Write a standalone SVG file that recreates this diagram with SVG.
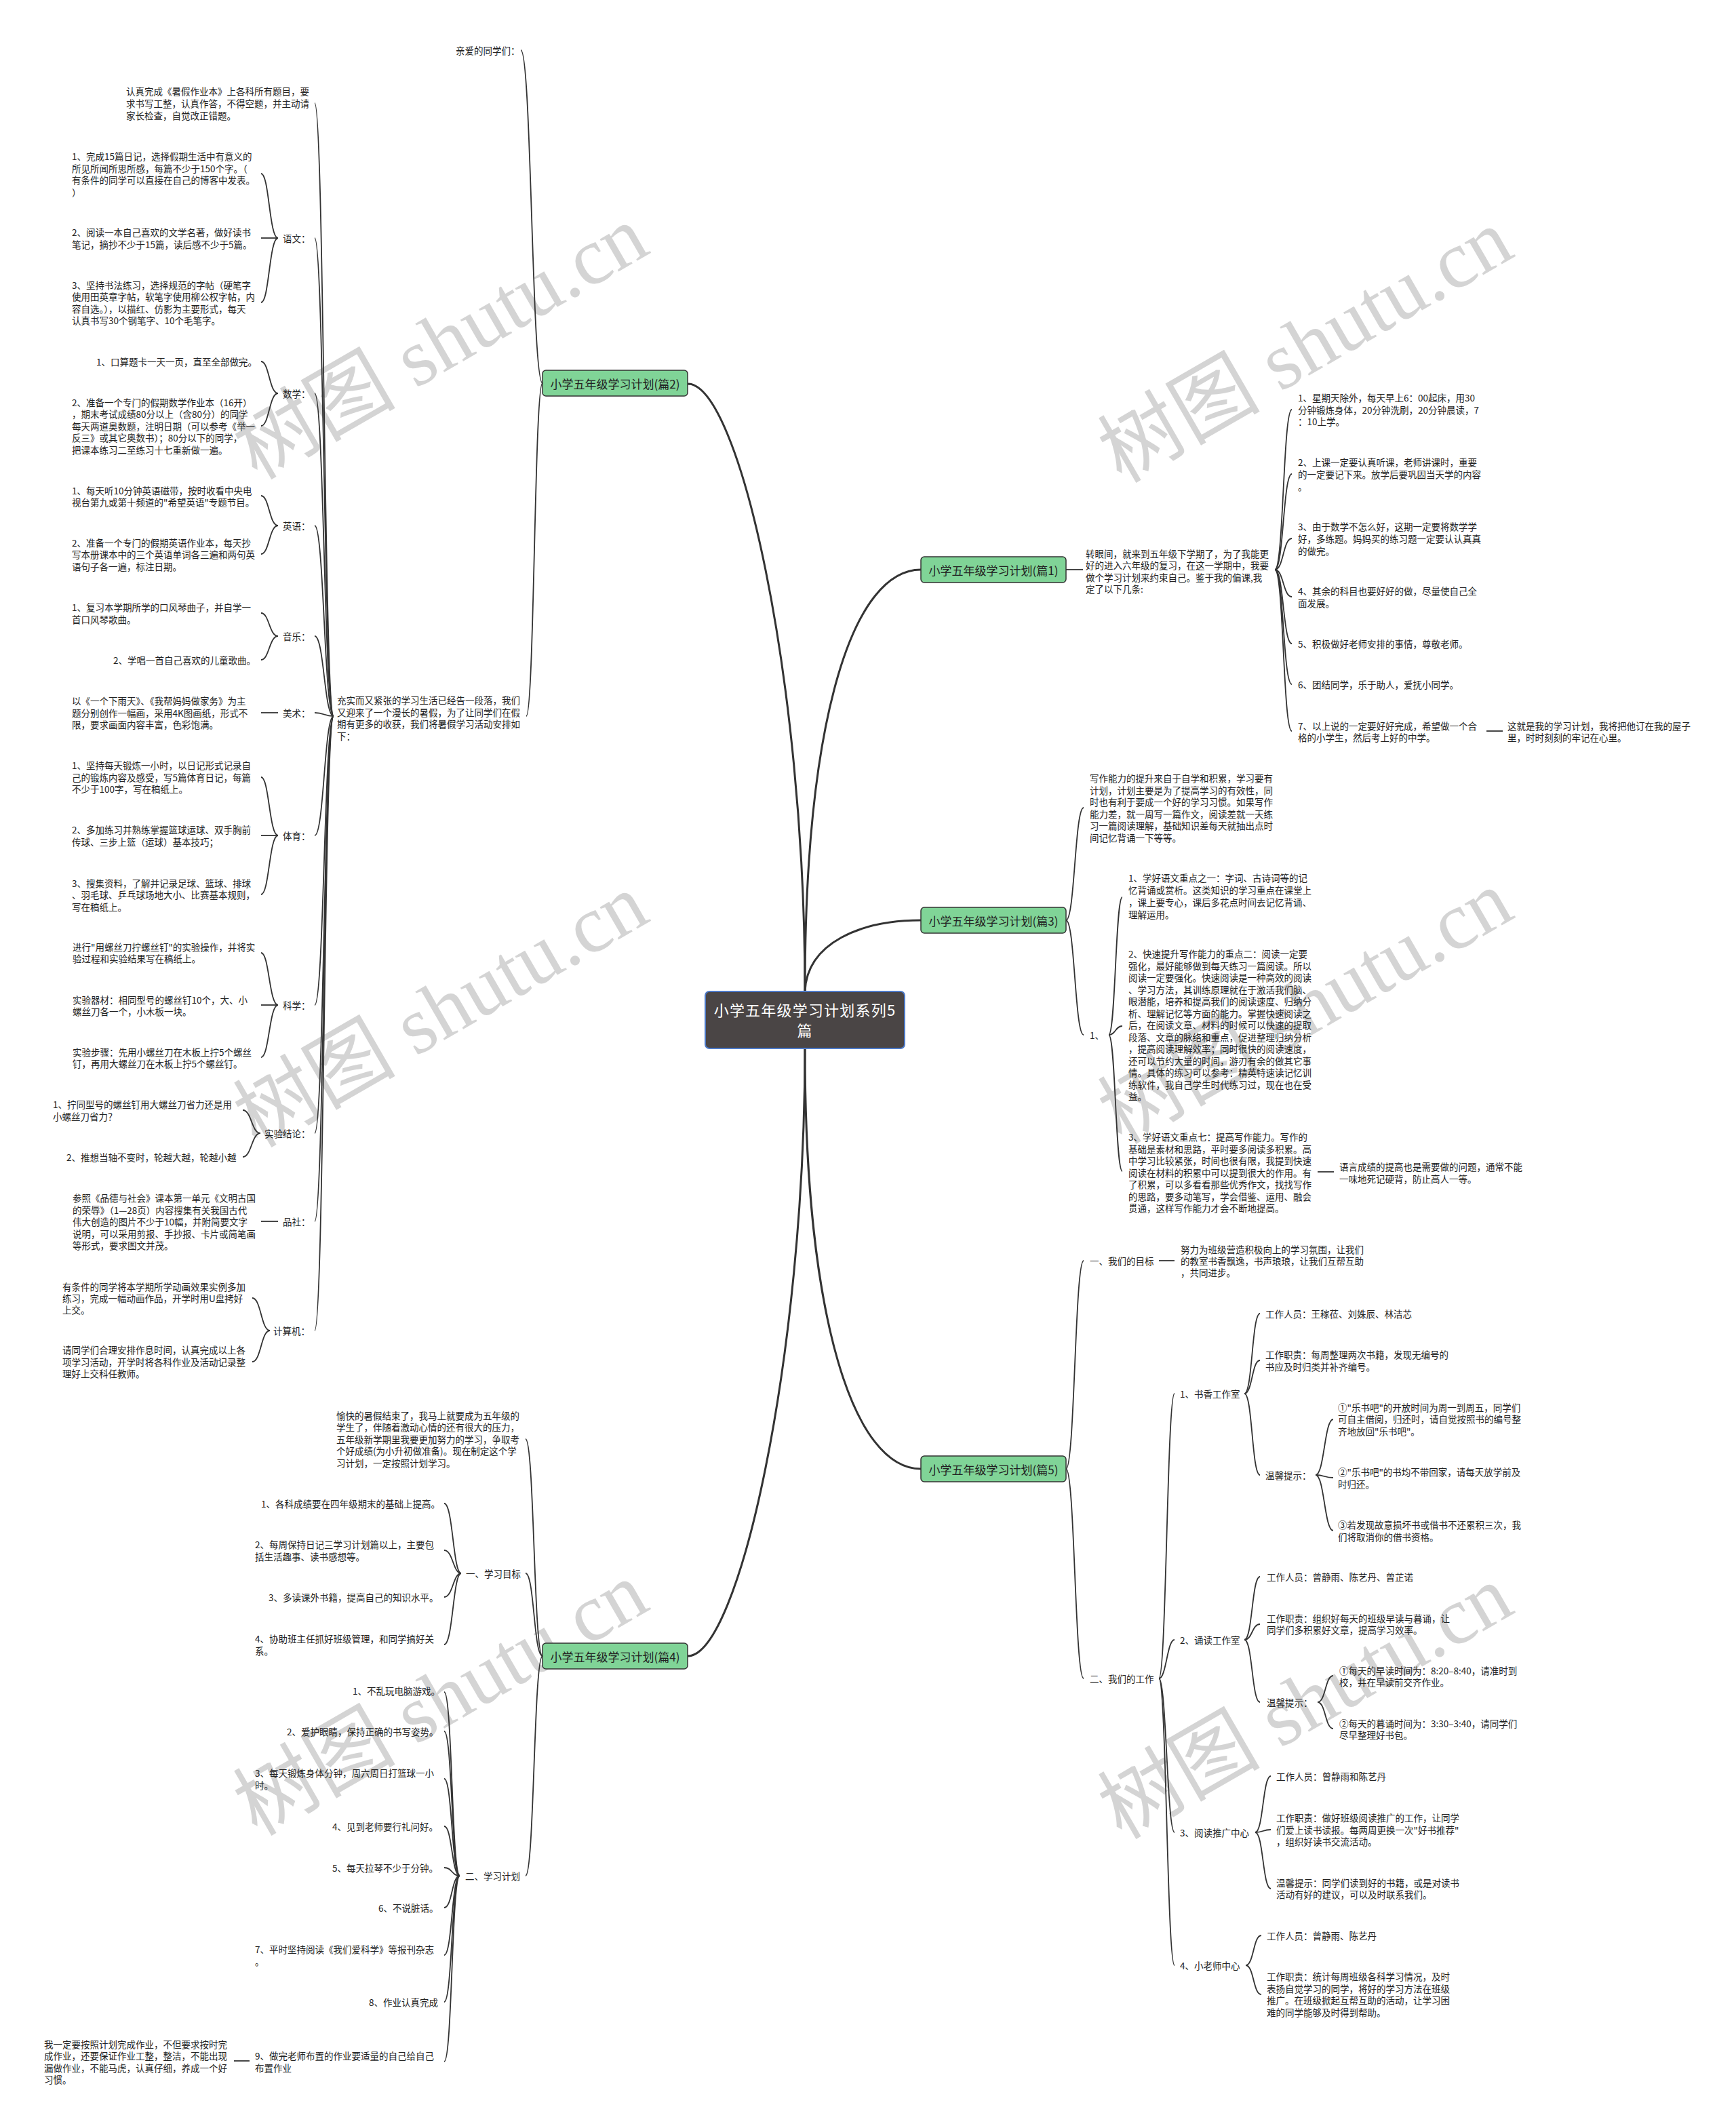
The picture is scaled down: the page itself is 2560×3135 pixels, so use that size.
<svg xmlns="http://www.w3.org/2000/svg" width="2560" height="3135" viewBox="0 0 2560 3135">
<style>
.t{font-family:"Noto Sans CJK SC","Liberation Sans",sans-serif;font-size:13.5px;fill:#222;dominant-baseline:central}
.b{font-family:"Noto Sans CJK SC","Liberation Sans",sans-serif;font-size:17px;fill:#222;dominant-baseline:central;text-anchor:middle}
.ct{font-family:"Noto Sans CJK SC","Liberation Sans",sans-serif;font-size:22px;fill:#fff;dominant-baseline:central;text-anchor:middle;letter-spacing:1.2px}
.br{fill:#80d497;stroke:#333;stroke-width:1.5}
.c{fill:none;stroke:#333;stroke-width:1.8}
.cm{fill:none;stroke:#333;stroke-width:3}
.wm{font-family:"Liberation Serif","Noto Sans CJK SC",serif;font-size:120px;fill:#d4d4d4;text-anchor:middle;dominant-baseline:central}
</style>
<rect width="2560" height="3135" fill="#fff"/>
<g id="watermarks">
<text class="wm" transform="translate(650,505) rotate(-30)">树图 shutu.cn</text>
<text class="wm" transform="translate(1925,510) rotate(-30)">树图 shutu.cn</text>
<text class="wm" transform="translate(650,1490) rotate(-30)">树图 shutu.cn</text>
<text class="wm" transform="translate(1925,1485) rotate(-30)">树图 shutu.cn</text>
<text class="wm" transform="translate(650,2505) rotate(-30)">树图 shutu.cn</text>
<text class="wm" transform="translate(1925,2510) rotate(-30)">树图 shutu.cn</text>
</g>
<g id="connectors">
<path class="cm" d="M1187 1462 C1187 1000 1090 566 1014 566"/>
<path class="cm" d="M1187 1462 C1187 1050 1260 840 1358 840"/>
<path class="cm" d="M1187 1462 C1190 1390 1270 1357 1358 1357"/>
<path class="cm" d="M1187 1545 C1187 1950 1260 2166 1358 2166"/>
<path class="cm" d="M1187 1545 C1187 2000 1090 2442 1014 2442"/>
<path class="c" d="M800 565 C784 565 784 74 768 74"/>
<path class="c" d="M800 565 C788 565 788 1056 776 1056"/>
<path class="c" d="M492 1056 C478 1056 478 152 464 152"/>
<path class="c" d="M492 1056 C478 1056 478 351 464 351"/>
<path class="c" d="M492 1056 C478 1056 478 580 464 580"/>
<path class="c" d="M492 1056 C478 1056 478 775 464 775"/>
<path class="c" d="M492 1056 C478 1056 478 938 464 938"/>
<path class="c" d="M492 1056 C478 1056 478 1051 464 1051"/>
<path class="c" d="M492 1056 C478 1056 478 1232 464 1232"/>
<path class="c" d="M492 1056 C478 1056 478 1482 464 1482"/>
<path class="c" d="M492 1056 C478 1056 478 1671 464 1671"/>
<path class="c" d="M492 1056 C478 1056 478 1801 464 1801"/>
<path class="c" d="M492 1056 C478 1056 478 1962 464 1962"/>
<path class="c" d="M410 351 C397 351 397 256 385 256"/>
<path class="c" d="M410 351 L385 351"/>
<path class="c" d="M410 351 C397 351 397 446 385 446"/>
<path class="c" d="M410 580 C397 580 397 533 385 533"/>
<path class="c" d="M410 580 C397 580 397 628 385 628"/>
<path class="c" d="M410 775 C397 775 397 731 385 731"/>
<path class="c" d="M410 775 C397 775 397 817 385 817"/>
<path class="c" d="M410 938 C397 938 397 904 385 904"/>
<path class="c" d="M410 938 C397 938 397 973 385 973"/>
<path class="c" d="M410 1051 L385 1051"/>
<path class="c" d="M410 1232 C397 1232 397 1146 385 1146"/>
<path class="c" d="M410 1232 L385 1232"/>
<path class="c" d="M410 1232 C397 1232 397 1319 385 1319"/>
<path class="c" d="M410 1482 C397 1482 397 1405 385 1405"/>
<path class="c" d="M410 1482 L385 1482"/>
<path class="c" d="M410 1482 C397 1482 397 1559 385 1559"/>
<path class="c" d="M384 1671 C371 1671 371 1637 358 1637"/>
<path class="c" d="M384 1671 C371 1671 371 1706 358 1706"/>
<path class="c" d="M410 1801 L385 1801"/>
<path class="c" d="M398 1962 C385 1962 385 1914 372 1914"/>
<path class="c" d="M398 1962 C385 1962 385 2008 372 2008"/>
<path class="c" d="M800 2442 C787 2442 788 2122 775 2122"/>
<path class="c" d="M800 2442 C787 2442 788 2320 775 2320"/>
<path class="c" d="M800 2442 C787 2442 788 2766 775 2766"/>
<path class="c" d="M680 2320 C668 2320 668 2217 655 2217"/>
<path class="c" d="M680 2320 C668 2320 668 2286 655 2286"/>
<path class="c" d="M680 2320 C668 2320 668 2355 655 2355"/>
<path class="c" d="M680 2320 C668 2320 668 2425 655 2425"/>
<path class="c" d="M678 2766 C666 2766 667 2495 655 2495"/>
<path class="c" d="M678 2766 C666 2766 667 2553 655 2553"/>
<path class="c" d="M678 2766 C666 2766 667 2623 655 2623"/>
<path class="c" d="M678 2766 C666 2766 667 2693 655 2693"/>
<path class="c" d="M678 2766 C666 2766 667 2754 655 2754"/>
<path class="c" d="M678 2766 C666 2766 667 2813 655 2813"/>
<path class="c" d="M678 2766 C666 2766 667 2883 655 2883"/>
<path class="c" d="M678 2766 C666 2766 667 2952 655 2952"/>
<path class="c" d="M678 2766 C666 2766 667 3040 655 3040"/>
<path class="c" d="M368 3039 L345 3039"/>
<path class="c" d="M1572 840 L1597 840"/>
<path class="c" d="M1880 840 C1893 840 1892 604 1905 604"/>
<path class="c" d="M1880 840 C1893 840 1892 699 1905 699"/>
<path class="c" d="M1880 840 C1893 840 1892 794 1905 794"/>
<path class="c" d="M1880 840 C1893 840 1892 880 1905 880"/>
<path class="c" d="M1880 840 C1893 840 1892 949 1905 949"/>
<path class="c" d="M1880 840 C1893 840 1892 1009 1905 1009"/>
<path class="c" d="M1880 840 C1893 840 1892 1078 1905 1078"/>
<path class="c" d="M2192 1078 L2216 1078"/>
<path class="c" d="M1572 1357 C1585 1357 1585 1191 1598 1191"/>
<path class="c" d="M1572 1357 C1585 1357 1585 1526 1598 1526"/>
<path class="c" d="M1635 1526 C1645 1526 1645 1323 1655 1323"/>
<path class="c" d="M1635 1526 C1645 1526 1645 1513 1655 1513"/>
<path class="c" d="M1635 1526 C1645 1526 1645 1727 1655 1727"/>
<path class="c" d="M1943 1728 L1967 1728"/>
<path class="c" d="M1572 2166 C1585 2166 1585 1859 1598 1859"/>
<path class="c" d="M1572 2166 C1585 2166 1585 2475 1598 2475"/>
<path class="c" d="M1709 1859 L1732 1859"/>
<path class="c" d="M1709 2475 C1720 2475 1721 2055 1732 2055"/>
<path class="c" d="M1709 2475 C1720 2475 1721 2418 1732 2418"/>
<path class="c" d="M1709 2475 C1720 2475 1721 2702 1732 2702"/>
<path class="c" d="M1709 2475 C1720 2475 1721 2898 1732 2898"/>
<path class="c" d="M1835 2055 C1847 2055 1846 1937 1858 1937"/>
<path class="c" d="M1835 2055 C1847 2055 1846 2006 1858 2006"/>
<path class="c" d="M1835 2055 C1847 2055 1846 2175 1858 2175"/>
<path class="c" d="M1940 2175 C1953 2175 1953 2093 1966 2093"/>
<path class="c" d="M1940 2175 C1953 2175 1953 2179 1966 2179"/>
<path class="c" d="M1940 2175 C1953 2175 1953 2257 1966 2257"/>
<path class="c" d="M1835 2418 C1847 2418 1846 2325 1858 2325"/>
<path class="c" d="M1835 2418 C1847 2418 1846 2395 1858 2395"/>
<path class="c" d="M1835 2418 C1847 2418 1846 2510 1858 2510"/>
<path class="c" d="M1943 2510 C1955 2510 1954 2471 1966 2471"/>
<path class="c" d="M1943 2510 C1955 2510 1954 2549 1966 2549"/>
<path class="c" d="M1851 2702 C1863 2702 1862 2619 1874 2619"/>
<path class="c" d="M1851 2702 C1863 2702 1862 2698 1874 2698"/>
<path class="c" d="M1851 2702 C1863 2702 1862 2785 1874 2785"/>
<path class="c" d="M1837 2898 C1849 2898 1848 2854 1860 2854"/>
<path class="c" d="M1837 2898 C1849 2898 1848 2941 1860 2941"/>
</g>
<g id="center">
<rect x="1040" y="1462" width="294" height="84" rx="6" fill="#4a4545" stroke="#4d79c7" stroke-width="2"/>
<text class="ct"><tspan x="1187" y="1488">小学五年级学习计划系列5</tspan><tspan x="1187" y="1518">篇</tspan></text>
</g>
<g id="b2"><rect class="br" x="800" y="546" width="214" height="38" rx="5"/><text class="b" x="907" y="565">小学五年级学习计划(篇2)</text></g>
<g id="b1"><rect class="br" x="1358" y="821" width="214" height="38" rx="5"/><text class="b" x="1465" y="840">小学五年级学习计划(篇1)</text></g>
<g id="b3"><rect class="br" x="1358" y="1338" width="214" height="38" rx="5"/><text class="b" x="1465" y="1357">小学五年级学习计划(篇3)</text></g>
<g id="b5"><rect class="br" x="1358" y="2147" width="214" height="38" rx="5"/><text class="b" x="1465" y="2166">小学五年级学习计划(篇5)</text></g>
<g id="b4"><rect class="br" x="800" y="2423" width="214" height="38" rx="5"/><text class="b" x="907" y="2442">小学五年级学习计划(篇4)</text></g>
<g id="n2-qin"><text class="t" x="672" y="74">亲爱的同学们：</text></g>
<g id="n2-para"><text class="t"><tspan x="497" y="1032">充实而又紧张的学习生活已经告一段落，我们</tspan><tspan x="497" y="1049.5">又迎来了一个漫长的暑假，为了让同学们在假</tspan><tspan x="497" y="1067">期有更多的收获，我们将暑假学习活动安排如</tspan><tspan x="497" y="1084.5">下：</tspan></text></g>
<g id="n2-top"><text class="t"><tspan x="186" y="134">认真完成《暑假作业本》上各科所有题目，要</tspan><tspan x="186" y="152">求书写工整，认真作答，不得空题，并主动请</tspan><tspan x="186" y="170">家长检查，自觉改正错题。</tspan></text></g>
<g id="n2-yuwen"><text class="t" x="417" y="351">语文：</text></g>
<g id="n2-yw1"><text class="t"><tspan x="106" y="230">1、完成15篇日记，选择假期生活中有意义的</tspan><tspan x="106" y="248">所见所闻所思所感，每篇不少于150个字。（</tspan><tspan x="106" y="265">有条件的同学可以直接在自己的博客中发表。</tspan><tspan x="106" y="283">）</tspan></text></g>
<g id="n2-yw2"><text class="t"><tspan x="106" y="342">2、阅读一本自己喜欢的文学名著，做好读书</tspan><tspan x="106" y="360">笔记，摘抄不少于15篇，读后感不少于5篇。</tspan></text></g>
<g id="n2-yw3"><text class="t"><tspan x="106" y="420">3、坚持书法练习，选择规范的字帖（硬笔字</tspan><tspan x="106" y="437">使用田英章字帖，软笔字使用柳公权字帖，内</tspan><tspan x="106" y="455">容自选。），以描红、仿影为主要形式，每天</tspan><tspan x="106" y="472">认真书写30个钢笔字、10个毛笔字。</tspan></text></g>
<g id="n2-shuxue"><text class="t" x="417" y="580">数学：</text></g>
<g id="n2-sx1"><text class="t" x="142" y="533">1、口算题卡一天一页，直至全部做完。</text></g>
<g id="n2-sx2"><text class="t"><tspan x="106" y="593">2、准备一个专门的假期数学作业本（16开）</tspan><tspan x="106" y="610">，期末考试成绩80分以上（含80分）的同学</tspan><tspan x="106" y="628">每天两道奥数题，注明日期（可以参考《举一</tspan><tspan x="106" y="645">反三》或其它奥数书）；80分以下的同学，</tspan><tspan x="106" y="663">把课本练习二至练习十七重新做一遍。</tspan></text></g>
<g id="n2-yingyu"><text class="t" x="417" y="775">英语：</text></g>
<g id="n2-yy1"><text class="t"><tspan x="106" y="723">1、每天听10分钟英语磁带，按时收看中央电</tspan><tspan x="106" y="740">视台第九或第十频道的"希望英语"专题节目。</tspan></text></g>
<g id="n2-yy2"><text class="t"><tspan x="106" y="800">2、准备一个专门的假期英语作业本，每天抄</tspan><tspan x="106" y="817">写本册课本中的三个英语单词各三遍和两句英</tspan><tspan x="106" y="835">语句子各一遍，标注日期。</tspan></text></g>
<g id="n2-yinyue"><text class="t" x="417" y="938">音乐：</text></g>
<g id="n2-yl1"><text class="t"><tspan x="106" y="895">1、复习本学期所学的口风琴曲子，并自学一</tspan><tspan x="106" y="913">首口风琴歌曲。</tspan></text></g>
<g id="n2-yl2"><text class="t" x="167" y="973">2、学唱一首自己喜欢的儿童歌曲。</text></g>
<g id="n2-meishu"><text class="t" x="417" y="1051">美术：</text></g>
<g id="n2-ms1"><text class="t"><tspan x="106" y="1033">以《一个下雨天》、《我帮妈妈做家务》为主</tspan><tspan x="106" y="1051">题分别创作一幅画，采用4K图画纸，形式不</tspan><tspan x="106" y="1068">限，要求画面内容丰富，色彩饱满。</tspan></text></g>
<g id="n2-tiyu"><text class="t" x="417" y="1232">体育：</text></g>
<g id="n2-ty1"><text class="t"><tspan x="106" y="1128">1、坚持每天锻炼一小时，以日记形式记录自</tspan><tspan x="106" y="1146">己的锻炼内容及感受，写5篇体育日记，每篇</tspan><tspan x="106" y="1163">不少于100字，写在稿纸上。</tspan></text></g>
<g id="n2-ty2"><text class="t"><tspan x="106" y="1223">2、多加练习并熟练掌握篮球运球、双手胸前</tspan><tspan x="106" y="1241">传球、三步上篮（运球）基本技巧；</tspan></text></g>
<g id="n2-ty3"><text class="t"><tspan x="106" y="1302">3、搜集资料，了解并记录足球、篮球、排球</tspan><tspan x="106" y="1319">、羽毛球、乒乓球场地大小、比赛基本规则，</tspan><tspan x="106" y="1337">写在稿纸上。</tspan></text></g>
<g id="n2-kexue"><text class="t" x="417" y="1482">科学：</text></g>
<g id="n2-kx1"><text class="t"><tspan x="107" y="1396">进行"用螺丝刀拧螺丝钉"的实验操作，并将实</tspan><tspan x="107" y="1413">验过程和实验结果写在稿纸上。</tspan></text></g>
<g id="n2-kx2"><text class="t"><tspan x="107" y="1474">实验器材：相同型号的螺丝钉10个，大、小</tspan><tspan x="107" y="1491">螺丝刀各一个，小木板一块。</tspan></text></g>
<g id="n2-kx3"><text class="t"><tspan x="107" y="1551">实验步骤：先用小螺丝刀在木板上拧5个螺丝</tspan><tspan x="107" y="1568">钉，再用大螺丝刀在木板上拧5个螺丝钉。</tspan></text></g>
<g id="n2-jielun"><text class="t" x="390" y="1671">实验结论：</text></g>
<g id="n2-jl1"><text class="t"><tspan x="78" y="1628">1、拧同型号的螺丝钉用大螺丝刀省力还是用</tspan><tspan x="78" y="1646">小螺丝刀省力？</tspan></text></g>
<g id="n2-jl2"><text class="t" x="98" y="1706">2、推想当轴不变时，轮越大越，轮越小越</text></g>
<g id="n2-pinshe"><text class="t" x="417" y="1801">品社：</text></g>
<g id="n2-ps1"><text class="t"><tspan x="107" y="1766">参照《品德与社会》课本第一单元《文明古国</tspan><tspan x="107" y="1784">的荣辱》（1—28页）内容搜集有关我国古代</tspan><tspan x="107" y="1801">伟大创造的图片不少于10幅，并附简要文字</tspan><tspan x="107" y="1819">说明，可以采用剪报、手抄报、卡片或简笔画</tspan><tspan x="107" y="1836">等形式，要求图文并茂。</tspan></text></g>
<g id="n2-jisuanji"><text class="t" x="403" y="1962">计算机：</text></g>
<g id="n2-js1"><text class="t"><tspan x="92" y="1897">有条件的同学将本学期所学动画效果实例多加</tspan><tspan x="92" y="1914">练习，完成一幅动画作品，开学时用U盘拷好</tspan><tspan x="92" y="1931">上交。</tspan></text></g>
<g id="n2-js2"><text class="t"><tspan x="92" y="1990">请同学们合理安排作息时间，认真完成以上各</tspan><tspan x="92" y="2008">项学习活动，开学时将各科作业及活动记录整</tspan><tspan x="92" y="2025">理好上交科任教师。</tspan></text></g>
<g id="n4-intro"><text class="t"><tspan x="496" y="2087">愉快的暑假结束了，我马上就要成为五年级的</tspan><tspan x="496" y="2104">学生了，伴随着激动心情的还有很大的压力，</tspan><tspan x="496" y="2122">五年级新学期里我要更加努力的学习，争取考</tspan><tspan x="496" y="2139">个好成绩(为小升初做准备)。现在制定这个学</tspan><tspan x="496" y="2157">习计划，一定按照计划学习。</tspan></text></g>
<g id="n4-mubiao"><text class="t" x="687" y="2320">一、学习目标</text></g>
<g id="n4-mb1"><text class="t" x="385" y="2217">1、各科成绩要在四年级期末的基础上提高。</text></g>
<g id="n4-mb2"><text class="t"><tspan x="376" y="2277">2、每周保持日记三学习计划篇以上，主要包</tspan><tspan x="376" y="2295">括生活趣事、读书感想等。</tspan></text></g>
<g id="n4-mb3"><text class="t" x="396" y="2355">3、多读课外书籍，提高自己的知识水平。</text></g>
<g id="n4-mb4"><text class="t"><tspan x="376" y="2416">4、协助班主任抓好班级管理，和同学搞好关</tspan><tspan x="376" y="2434">系。</tspan></text></g>
<g id="n4-jihua"><text class="t" x="686" y="2766">二、学习计划</text></g>
<g id="n4-jh1"><text class="t" x="520" y="2493">1、不乱玩电脑游戏。</text></g>
<g id="n4-jh2"><text class="t" x="423" y="2553">2、爱护眼睛，保持正确的书写姿势。</text></g>
<g id="n4-jh3"><text class="t"><tspan x="376" y="2614">3、每天锻炼身体分钟，周六周日打篮球一小</tspan><tspan x="376" y="2632">时。</tspan></text></g>
<g id="n4-jh4"><text class="t" x="490" y="2693">4、见到老师要行礼问好。</text></g>
<g id="n4-jh5"><text class="t" x="490" y="2754">5、每天拉琴不少于分钟。</text></g>
<g id="n4-jh6"><text class="t" x="558" y="2813">6、不说脏话。</text></g>
<g id="n4-jh7"><text class="t"><tspan x="376" y="2874">7、平时坚持阅读《我们爱科学》等报刊杂志</tspan><tspan x="376" y="2892">。</tspan></text></g>
<g id="n4-jh8"><text class="t" x="544" y="2952">8、作业认真完成</text></g>
<g id="n4-jh9"><text class="t"><tspan x="376" y="3031">9、做完老师布置的作业要适量的自己给自己</tspan><tspan x="376" y="3049">布置作业</tspan></text></g>
<g id="n4-jh9a"><text class="t"><tspan x="65" y="3014">我一定要按照计划完成作业，不但要求按时完</tspan><tspan x="65" y="3031">成作业，还要保证作业工整，整洁，不能出现</tspan><tspan x="65" y="3049">漏做作业，不能马虎，认真仔细，养成一个好</tspan><tspan x="65" y="3066">习惯。</tspan></text></g>
<g id="n1-para"><text class="t"><tspan x="1601" y="816">转眼间，就来到五年级下学期了，为了我能更</tspan><tspan x="1601" y="833">好的进入六年级的复习，在这一学期中，我要</tspan><tspan x="1601" y="851">做个学习计划来约束自己。鉴于我的偏课,我</tspan><tspan x="1601" y="868">定了以下几条:</tspan></text></g>
<g id="n1-c1"><text class="t"><tspan x="1914" y="586">1、星期天除外，每天早上6：00起床，用30</tspan><tspan x="1914" y="604">分钟锻炼身体，20分钟洗刷，20分钟晨读，7</tspan><tspan x="1914" y="621">：10上学。</tspan></text></g>
<g id="n1-c2"><text class="t"><tspan x="1914" y="681">2、上课一定要认真听课，老师讲课时，重要</tspan><tspan x="1914" y="699">的一定要记下来。放学后要巩固当天学的内容</tspan><tspan x="1914" y="717">。</tspan></text></g>
<g id="n1-c3"><text class="t"><tspan x="1914" y="776">3、由于数学不怎么好，这期一定要将数学学</tspan><tspan x="1914" y="794">好，多练题。妈妈买的练习题一定要认认真真</tspan><tspan x="1914" y="812">的做完。</tspan></text></g>
<g id="n1-c4"><text class="t"><tspan x="1914" y="871">4、其余的科目也要好好的做，尽量使自己全</tspan><tspan x="1914" y="889">面发展。</tspan></text></g>
<g id="n1-c5"><text class="t" x="1914" y="949">5、积极做好老师安排的事情，尊敬老师。</text></g>
<g id="n1-c6"><text class="t" x="1914" y="1009">6、团结同学，乐于助人，爱抚小同学。</text></g>
<g id="n1-c7"><text class="t"><tspan x="1914" y="1070">7、以上说的一定要好好完成，希望做一个合</tspan><tspan x="1914" y="1087">格的小学生，然后考上好的中学。</tspan></text></g>
<g id="n1-c7a"><text class="t"><tspan x="2223" y="1070">这就是我的学习计划，我将把他订在我的屋子</tspan><tspan x="2223" y="1087">里，时时刻刻的牢记在心里。</tspan></text></g>
<g id="n3-para"><text class="t"><tspan x="1607" y="1147">写作能力的提升来自于自学和积累，学习要有</tspan><tspan x="1607" y="1164.5">计划，计划主要是为了提高学习的有效性，同</tspan><tspan x="1607" y="1182">时也有利于要成一个好的学习习惯。如果写作</tspan><tspan x="1607" y="1199.5">能力差，就一周写一篇作文，阅读差就一天练</tspan><tspan x="1607" y="1217">习一篇阅读理解，基础知识差每天就抽出点时</tspan><tspan x="1607" y="1234.5">间记忆背诵一下等等。</tspan></text></g>
<g id="n3-yi"><text class="t" x="1607" y="1526">1、</text></g>
<g id="n3-c1"><text class="t"><tspan x="1664" y="1294">1、学好语文重点之一：字词、古诗词等的记</tspan><tspan x="1664" y="1312">忆背诵或赏析。这类知识的学习重点在课堂上</tspan><tspan x="1664" y="1330">，课上要专心，课后多花点时间去记忆背诵、</tspan><tspan x="1664" y="1348">理解运用。</tspan></text></g>
<g id="n3-c2"><text class="t"><tspan x="1664" y="1406">2、快速提升写作能力的重点二：阅读一定要</tspan><tspan x="1664" y="1423.5">强化，最好能够做到每天练习一篇阅读。所以</tspan><tspan x="1664" y="1441">阅读一定要强化。快速阅读是一种高效的阅读</tspan><tspan x="1664" y="1458.5">、学习方法，其训练原理就在于激活我们脑、</tspan><tspan x="1664" y="1476">眼潜能，培养和提高我们的阅读速度、归纳分</tspan><tspan x="1664" y="1493.5">析、理解记忆等方面的能力。掌握快速阅读之</tspan><tspan x="1664" y="1511">后，在阅读文章、材料的时候可以快速的提取</tspan><tspan x="1664" y="1528.5">段落、文章的脉络和重点，促进整理归纳分析</tspan><tspan x="1664" y="1546">，提高阅读理解效率；同时很快的阅读速度，</tspan><tspan x="1664" y="1563.5">还可以节约大量的时间，游刃有余的做其它事</tspan><tspan x="1664" y="1581">情。具体的练习可以参考：精英特速读记忆训</tspan><tspan x="1664" y="1598.5">练软件，我自己学生时代练习过，现在也在受</tspan><tspan x="1664" y="1616">益。</tspan></text></g>
<g id="n3-c3"><text class="t"><tspan x="1664" y="1676">3、学好语文重点七：提高写作能力。写作的</tspan><tspan x="1664" y="1693.5">基础是素材和思路，平时要多阅读多积累。高</tspan><tspan x="1664" y="1711">中学习比较紧张，时间也很有限，我提到快速</tspan><tspan x="1664" y="1728.5">阅读在材料的积累中可以提到很大的作用。有</tspan><tspan x="1664" y="1746">了积累，可以多看看那些优秀作文，找找写作</tspan><tspan x="1664" y="1763.5">的思路，要多动笔写，学会借鉴、运用、融会</tspan><tspan x="1664" y="1781">贯通，这样写作能力才会不断地提高。</tspan></text></g>
<g id="n3-c3a"><text class="t"><tspan x="1975" y="1720">语言成绩的提高也是需要做的问题，通常不能</tspan><tspan x="1975" y="1738">一味地死记硬背，防止高人一等。</tspan></text></g>
<g id="n5-mubiao"><text class="t" x="1607" y="1859">一、我们的目标</text></g>
<g id="n5-mb1"><text class="t"><tspan x="1741" y="1842">努力为班级营造积极向上的学习氛围，让我们</tspan><tspan x="1741" y="1859">的教室书香飘逸，书声琅琅，让我们互帮互助</tspan><tspan x="1741" y="1876">，共同进步。</tspan></text></g>
<g id="n5-gongzuo"><text class="t" x="1607" y="2475">二、我们的工作</text></g>
<g id="n5-s1"><text class="t" x="1740" y="2055">1、书香工作室</text></g>
<g id="n5-s1a"><text class="t" x="1866" y="1937">工作人员：王稼莅、刘姝辰、林洁芯</text></g>
<g id="n5-s1b"><text class="t"><tspan x="1866" y="1997">工作职责：每周整理两次书籍，发现无编号的</tspan><tspan x="1866" y="2015">书应及时归类并补齐编号。</tspan></text></g>
<g id="n5-s1c"><text class="t" x="1866" y="2175">温馨提示：</text></g>
<g id="n5-s1c1"><text class="t"><tspan x="1973" y="2075">①"乐书吧"的开放时间为周一到周五，同学们</tspan><tspan x="1973" y="2092">可自主借阅，归还时，请自觉按照书的编号整</tspan><tspan x="1973" y="2110">齐地放回"乐书吧"。</tspan></text></g>
<g id="n5-s1c2"><text class="t"><tspan x="1973" y="2170">②"乐书吧"的书均不带回家，请每天放学前及</tspan><tspan x="1973" y="2188">时归还。</tspan></text></g>
<g id="n5-s1c3"><text class="t"><tspan x="1973" y="2248">③若发现故意损坏书或借书不还累积三次，我</tspan><tspan x="1973" y="2266">们将取消你的借书资格。</tspan></text></g>
<g id="n5-s2"><text class="t" x="1740" y="2418">2、诵读工作室</text></g>
<g id="n5-s2a"><text class="t" x="1868" y="2325">工作人员：曾静雨、陈艺丹、曾芷诺</text></g>
<g id="n5-s2b"><text class="t"><tspan x="1868" y="2386">工作职责：组织好每天的班级早读与暮诵，让</tspan><tspan x="1868" y="2403">同学们多积累好文章，提高学习效率。</tspan></text></g>
<g id="n5-s2c"><text class="t" x="1868" y="2510">温馨提示：</text></g>
<g id="n5-s2c1"><text class="t"><tspan x="1975" y="2463">①每天的早读时间为：8:20–8:40，请准时到</tspan><tspan x="1975" y="2480">校，并在早读前交齐作业。</tspan></text></g>
<g id="n5-s2c2"><text class="t"><tspan x="1975" y="2541">②每天的暮诵时间为：3:30–3:40，请同学们</tspan><tspan x="1975" y="2558">尽早整理好书包。</tspan></text></g>
<g id="n5-s3"><text class="t" x="1740" y="2702">3、阅读推广中心</text></g>
<g id="n5-s3a"><text class="t" x="1882" y="2619">工作人员：曾静雨和陈艺丹</text></g>
<g id="n5-s3b"><text class="t"><tspan x="1882" y="2680">工作职责：做好班级阅读推广的工作，让同学</tspan><tspan x="1882" y="2698">们爱上读书读报。每两周更换一次"好书推荐"</tspan><tspan x="1882" y="2715">，组织好读书交流活动。</tspan></text></g>
<g id="n5-s3c"><text class="t"><tspan x="1882" y="2776">温馨提示：同学们读到好的书籍，或是对读书</tspan><tspan x="1882" y="2793">活动有好的建议，可以及时联系我们。</tspan></text></g>
<g id="n5-s4"><text class="t" x="1740" y="2898">4、小老师中心</text></g>
<g id="n5-s4a"><text class="t" x="1868" y="2854">工作人员：曾静雨、陈艺丹</text></g>
<g id="n5-s4b"><text class="t"><tspan x="1868" y="2914">工作职责：统计每周班级各科学习情况，及时</tspan><tspan x="1868" y="2932">表扬自觉学习的同学，将好的学习方法在班级</tspan><tspan x="1868" y="2949">推广。在班级掀起互帮互助的活动，让学习困</tspan><tspan x="1868" y="2967">难的同学能够及时得到帮助。</tspan></text></g>
</svg>
